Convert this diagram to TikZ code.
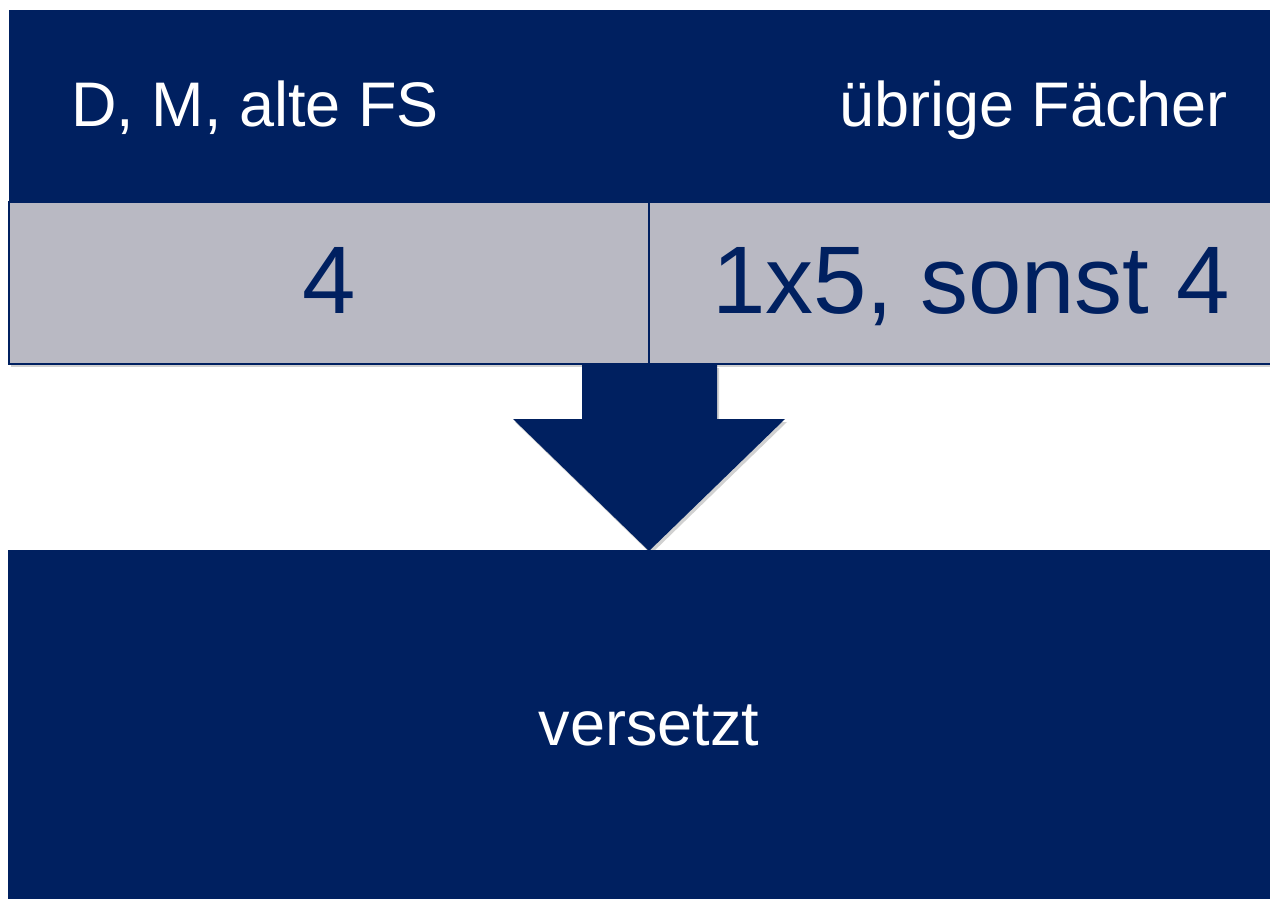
\documentclass[tikz,border=0pt]{standalone}
\usepackage{fontspec}
\setmainfont{Liberation Sans}
\usetikzlibrary{shadows}
\definecolor{navy}{RGB}{0,32,96}
\definecolor{cellgrey}{RGB}{185,185,195}
\tikzset{
  band/.style={fill=navy, draw=none},
  cell/.style={fill=cellgrey, draw=navy, line width=1.2pt},
  headtext/.style={text=white, font=\fontsize{63}{70}\selectfont, inner sep=0pt},
  celltext/.style={text=navy, font=\fontsize{96}{105}\selectfont, inner sep=0pt},
  softshadow/.style={drop shadow={shadow xshift=2pt, shadow yshift=-3pt, opacity=0.18, fill=black}}
}
\begin{document}
\begin{tikzpicture}[x=1pt,y=-1pt]
\useasboundingbox (0,0) rectangle (1270,899);
% top header band
\path[band] (9,10) rectangle (1272,201);
\node[headtext, anchor=base west] (hl) at (71,126) {D, M, alte FS};
\node[headtext, anchor=base east] (hr) at (1228,126) {übrige Fächer};
% grey row
\path[cell, softshadow] (9,202) rectangle (1272,364);
\draw[navy, line width=1.2pt] (649,202) -- (649,364);
\node[celltext, anchor=base] (c1) at (329,313) {4};
\node[celltext, anchor=base] (c2) at (971,313) {1x5, sonst 4};
% arrow
\path[band, softshadow] (582,365) -- (717,365) -- (717,419) -- (785,419) -- (649,551) -- (513,419) -- (582,419) -- cycle;
% bottom box
\path[band] (8,550) rectangle (1272,901);
\node[headtext, anchor=base] (res) at (649,745) {versetzt};
\end{tikzpicture}
\end{document}
